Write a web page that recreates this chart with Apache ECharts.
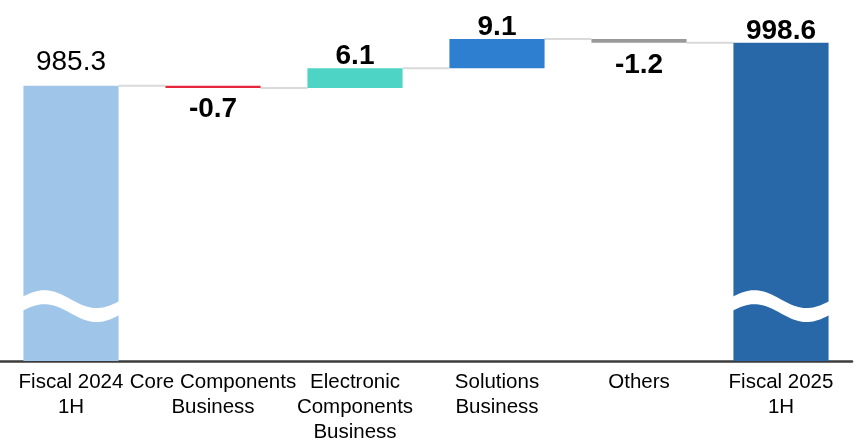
<!DOCTYPE html>
<html>
<head>
<meta charset="utf-8">
<script src="https://cdn.jsdelivr.net/npm/echarts@6/dist/echarts.min.js"></script>
<style>
html,body{margin:0;padding:0;background:#fff;}
#chart{width:856px;height:440px;}
</style>
</head>
<body>
<div id="chart"></div>
<script>
// ---- data ----
var categories = ['Fiscal 2024\n1H', 'Core Components\nBusiness', 'Electronic\nComponents\nBusiness', 'Solutions\nBusiness', 'Others', 'Fiscal 2025\n1H'];
var startTotal = 985.3;
var changes = [-0.7, 6.1, 9.1, -1.2];
var endTotal = 998.6;
var barColors = ['#9fc5e8', '#e8263b', '#4dd4c4', '#2e7fcf', '#999999', '#2867a8'];
var breakValue = 917.0;

// ---- derived waterfall arrays ----
var baseVals = [0];
var heightVals = [startTotal];
var labelVals = [startTotal];
var levels = [startTotal];
var running = startTotal;
for (var i = 0; i < changes.length; i++) {
  var next = Math.round((running + changes[i]) * 10) / 10;
  baseVals.push(Math.min(running, next));
  heightVals.push(Math.abs(changes[i]));
  labelVals.push(changes[i]);
  running = next;
  levels.push(running);
}
baseVals.push(0);
heightVals.push(endTotal);
labelVals.push(endTotal);

var labelCfg = [
  {position: 'top', distance: 9, fontWeight: 'normal'},
  {position: 'bottom', distance: 7, fontWeight: 'bold'},
  {position: 'top', distance: -2, fontWeight: 'bold'},
  {position: 'top', distance: -2, fontWeight: 'bold'},
  {position: 'bottom', distance: 8, fontWeight: 'bold'},
  {position: 'top', distance: -2, fontWeight: 'bold'}
];

var barData = heightVals.map(function (v, i) {
  return {
    value: v,
    itemStyle: {color: barColors[i]},
    label: {
      show: true,
      position: labelCfg[i].position,
      distance: labelCfg[i].distance,
      fontWeight: labelCfg[i].fontWeight,
      formatter: labelVals[i].toFixed(1)
    }
  };
});

var connectorData = [];
for (var k = 0; k < levels.length; k++) connectorData.push([k, levels[k]]);

var BAR_RATIO = 0.67;

var chart = echarts.init(document.getElementById('chart'), null, {renderer: 'canvas'});
chart.setOption({
  animation: false,
  backgroundColor: '#ffffff',
  grid: {left: 0, right: 4, top: 6, bottom: 79, containLabel: false, outerBoundsMode: 'none'},
  xAxis: {
    type: 'category',
    data: categories,
    axisLine: {show: true, onZero: false, lineStyle: {color: '#3c3c3c', width: 2.5}},
    axisTick: {show: false},
    axisLabel: {
      interval: 0,
      margin: 9,
      color: '#000',
      fontFamily: 'Liberation Sans, Arial, sans-serif',
      fontSize: 20.5,
      lineHeight: 25
    }
  },
  yAxis: {
    type: 'value',
    min: 900,
    max: 1010,
    show: false,
    splitLine: {show: false}
  },
  series: [
    {
      type: 'custom',
      name: 'connectors',
      z: 1,
      data: connectorData,
      renderItem: function (params, api) {
        var p = api.coord([api.value(0), api.value(1)]);
        var bw = api.size([1, 0])[0];
        var barW = bw * BAR_RATIO;
        return {
          type: 'line',
          shape: {x1: p[0] + barW / 2, y1: p[1], x2: p[0] + bw - barW / 2, y2: p[1]},
          style: {stroke: '#d9d9d9', lineWidth: 2}
        };
      }
    },
    {
      type: 'bar',
      stack: 'wf',
      barWidth: (BAR_RATIO * 100) + '%',
      itemStyle: {color: 'transparent'},
      emphasis: {disabled: true},
      data: baseVals
    },
    {
      type: 'bar',
      stack: 'wf',
      barWidth: (BAR_RATIO * 100) + '%',
      z: 3,
      label: {
        show: true,
        color: '#000',
        fontFamily: 'Liberation Sans, Arial, sans-serif',
        fontSize: 28
      },
      data: barData
    },
    {
      type: 'custom',
      name: 'break',
      z: 5,
      data: [[0, breakValue], [categories.length - 1, breakValue]],
      renderItem: function (params, api) {
        var p = api.coord([api.value(0), api.value(1)]);
        var bw = api.size([1, 0])[0];
        var barW = bw * BAR_RATIO;
        var left = p[0] - barW / 2 - 2;
        var right = p[0] + barW / 2 + 2;
        var A = 9, thick = 14;
        var period = barW * 1.1;
        var peakX = p[0] - barW / 2 + barW * 0.22;
        var top = [], bottom = [];
        var n = 40;
        for (var j = 0; j <= n; j++) {
          var x = left + (right - left) * j / n;
          var yc = p[1] - A * Math.cos(2 * Math.PI * (x - peakX) / period);
          top.push([x, yc - thick / 2]);
          bottom.unshift([x, yc + thick / 2]);
        }
        return {
          type: 'polygon',
          shape: {points: top.concat(bottom)},
          style: {fill: '#ffffff'}
        };
      }
    }
  ]
});
</script>
</body>
</html>
